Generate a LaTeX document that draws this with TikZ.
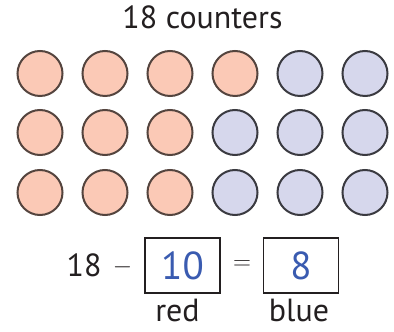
\documentclass[tikz,border=0pt]{standalone}
\usepackage{fontspec}
\setmainfont{PT Sans}
\definecolor{txt}{HTML}{231F20}
\definecolor{redfill}{HTML}{FBC9B6}
\definecolor{redline}{HTML}{54443E}
\definecolor{bluefill}{HTML}{D6D7EC}
\definecolor{blueline}{HTML}{3A3A40}
\definecolor{numblue}{HTML}{3A5BB0}
\begin{document}
\begin{tikzpicture}[x=1pt,y=1pt,
  redc/.style={circle,draw=redline,fill=redfill,line width=2pt,minimum size=45pt,inner sep=0pt},
  bluec/.style={circle,draw=blueline,fill=bluefill,line width=2pt,minimum size=45pt,inner sep=0pt},
  lbl/.style={text=txt,font=\fontsize{32}{34}\selectfont,anchor=base,inner sep=0pt},
  op/.style={text=txt,font=\fontsize{26}{28}\selectfont,inner sep=0pt},
  ansbox/.style={draw=txt,line width=1.2pt,minimum width=75pt,minimum height=55pt,inner sep=0pt,text=numblue,font=\fontsize{39}{41}\selectfont}]
\useasboundingbox (0,0) rectangle (394,332);
\node[lbl] (title) at (202.5,303) {18 counters};
% row 1
\node[redc] (r11) at (40,258.5) {};
\node[redc] (r12) at (105,258.5) {};
\node[redc] (r13) at (170,258.5) {};
\node[redc] (r14) at (235,258.5) {};
\node[bluec] (r15) at (300,258.5) {};
\node[bluec] (r16) at (365,258.5) {};
% row 2
\node[redc] (r21) at (40,199.5) {};
\node[redc] (r22) at (105,199.5) {};
\node[redc] (r23) at (170,199.5) {};
\node[bluec] (r24) at (235,199.5) {};
\node[bluec] (r25) at (300,199.5) {};
\node[bluec] (r26) at (365,199.5) {};
% row 3
\node[redc] (r31) at (40,139.5) {};
\node[redc] (r32) at (105,139.5) {};
\node[redc] (r33) at (170,139.5) {};
\node[bluec] (r34) at (235,139.5) {};
\node[bluec] (r35) at (300,139.5) {};
\node[bluec] (r36) at (365,139.5) {};
% equation
\node[lbl] (eighteen) at (84,55) {18};
\node[op] (minus) at (122.5,65) {$-$};
\node[ansbox] (box1) at (182.5,66.5) {10};
\node[op] (eq) at (242,67) {$=$};
\node[ansbox] (box2) at (301,66.5) {8};
\node[lbl] (red) at (177.5,10) {red};
\node[lbl] (blue) at (299,10) {blue};
\end{tikzpicture}
\end{document}
